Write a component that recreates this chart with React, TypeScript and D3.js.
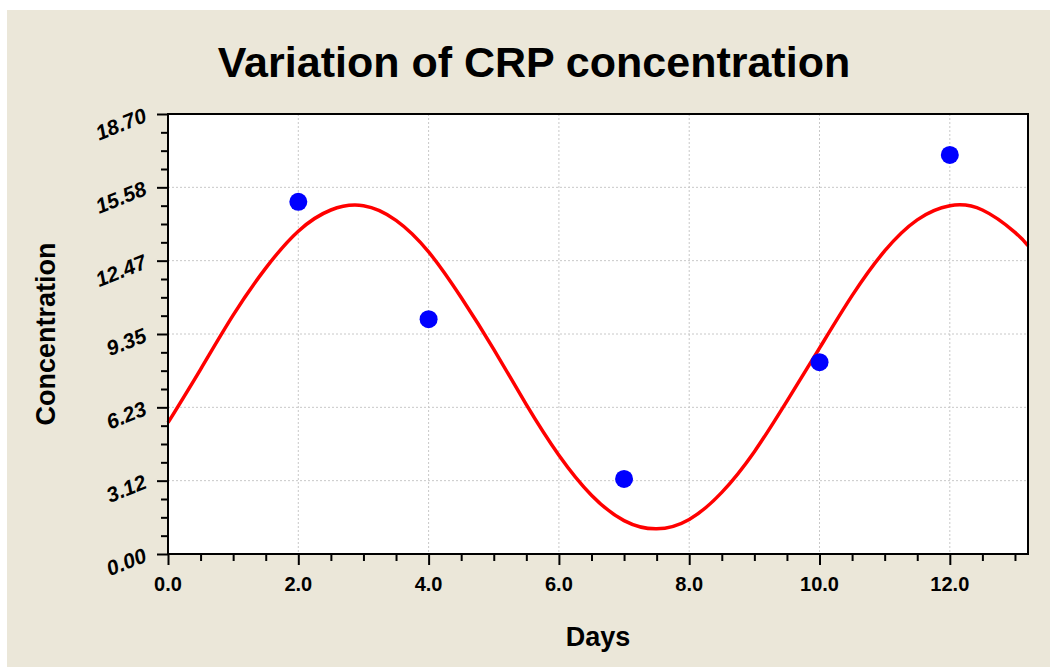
import React, { useEffect, useRef } from "react";
import * as d3 from "d3";

// measured points (day, CRP)
const days = [2, 4, 7, 10, 12];
const crp = [14.97, 9.98, 3.19, 8.15, 16.96];

// fitted curve, every half day
const fitDays = [
  0, 0.5, 1, 1.5, 2, 2.5, 3, 3.5, 4, 4.5, 5, 5.5, 6, 6.5, 7, 7.5, 8, 8.5, 9,
  9.5, 10, 10.5, 11, 11.5, 12, 12.5, 13, 13.2,
];
const fitCrp = [
  5.58, 7.85, 10.15, 12.15, 13.72, 14.62, 14.8, 14.18, 12.84, 10.9, 8.7, 6.35,
  4.2, 2.5, 1.42, 1.07, 1.47, 2.62, 4.35, 6.5, 8.75, 10.98, 12.88, 14.2, 14.8,
  14.62, 13.67, 13.1,
];

const xTicks = [0, 2, 4, 6, 8, 10, 12];
const xTickLabels = ["0.0", "2.0", "4.0", "6.0", "8.0", "10.0", "12.0"];
const xMinorTicks = [0.5, 1, 1.5, 2.5, 3, 3.5, 4.5, 5, 5.5, 6.5, 7, 7.5, 8.5, 9, 9.5, 10.5, 11, 11.5, 12.5, 13];
const yTicks = [0, 3.1167, 6.2333, 9.35, 12.4667, 15.5833, 18.7];
const yTickLabels = ["0.00", "3.12", "6.23", "9.35", "12.47", "15.58", "18.70"];

const App = () => {
  const svgRef = useRef<SVGSVGElement>(null);
  const width = 1050;
  const height = 667;
  const margin = { top: 114, right: 22, bottom: 113, left: 168 };

  useEffect(() => {
    const svg = d3.select(svgRef.current);
    svg.selectAll("*").remove();

    const chartWidth = width - margin.left - margin.right;
    const chartHeight = height - margin.top - margin.bottom;
    const font = "'Liberation Sans', Arial, sans-serif";

    const x = d3.scaleLinear().domain([0, 13.2]).range([0, chartWidth]);
    const y = d3.scaleLinear().domain([0, 18.7]).range([chartHeight, 0]);

    // panel background
    svg
      .append("rect")
      .attr("x", 7)
      .attr("y", 10)
      .attr("width", width - 7)
      .attr("height", height - 10)
      .attr("fill", "#ebe7d9");

    svg
      .append("text")
      .text("Variation of CRP concentration")
      .attr("x", 534)
      .attr("y", 77)
      .attr("text-anchor", "middle")
      .attr("font-family", font)
      .attr("font-weight", "bold")
      .attr("font-size", "43px")
      .attr("fill", "#000");

    const g = svg
      .append("g")
      .attr("transform", `translate(${margin.left},${margin.top})`);

    g.append("rect")
      .attr("width", chartWidth)
      .attr("height", chartHeight)
      .attr("fill", "#fff");

    // dotted grid
    g.selectAll(".vgrid")
      .data(xTicks.slice(1))
      .enter()
      .append("line")
      .attr("x1", (d) => x(d))
      .attr("x2", (d) => x(d))
      .attr("y1", 0)
      .attr("y2", chartHeight)
      .attr("stroke", "#c8c8c8")
      .attr("stroke-dasharray", "2,2");

    g.selectAll(".hgrid")
      .data(yTicks.slice(1, -1))
      .enter()
      .append("line")
      .attr("x1", 0)
      .attr("x2", chartWidth)
      .attr("y1", (d) => y(d))
      .attr("y2", (d) => y(d))
      .attr("stroke", "#c8c8c8")
      .attr("stroke-dasharray", "2,2");

    // fitted curve
    const line = d3
      .line<number>()
      .x((d, i) => x(fitDays[i]))
      .y((d) => y(d))
      .curve(d3.curveNatural);

    g.append("path")
      .datum(fitCrp)
      .attr("d", line)
      .attr("fill", "none")
      .attr("stroke", "#ff0000")
      .attr("stroke-width", 3.5);

    // points
    g.selectAll(".dot")
      .data(crp)
      .enter()
      .append("circle")
      .attr("cx", (d, i) => x(days[i]))
      .attr("cy", (d) => y(d))
      .attr("r", 9)
      .attr("fill", "#0000ff");

    // frame
    g.append("rect")
      .attr("width", chartWidth)
      .attr("height", chartHeight)
      .attr("fill", "none")
      .attr("stroke", "#000")
      .attr("stroke-width", 2);

    // y axis ticks
    const yMinor = d3
      .range(0, 25)
      .filter((i) => i % 4 !== 0)
      .map((i) => (18.7 / 24) * i);

    const yAxisMajor = g
      .append("g")
      .call(d3.axisLeft(y).tickValues(yTicks).tickSize(11).tickFormat(() => ""));
    const yAxisMinor = g
      .append("g")
      .call(d3.axisLeft(y).tickValues(yMinor).tickSize(7).tickFormat(() => ""));

    const xAxisMajor = g
      .append("g")
      .attr("transform", `translate(0, ${chartHeight})`)
      .call(d3.axisBottom(x).tickValues(xTicks).tickSize(11).tickFormat(() => ""));
    const xAxisMinor = g
      .append("g")
      .attr("transform", `translate(0, ${chartHeight})`)
      .call(d3.axisBottom(x).tickValues(xMinorTicks).tickSize(7).tickFormat(() => ""));

    [yAxisMajor, yAxisMinor, xAxisMajor, xAxisMinor].forEach((a) => {
      a.select(".domain").remove();
      a.selectAll("line").attr("stroke", "#000").attr("stroke-width", 2);
    });

    // y tick labels, slanted
    g.selectAll(".ylabel")
      .data(yTicks)
      .enter()
      .append("text")
      .text((d, i) => yTickLabels[i])
      .attr(
        "transform",
        (d) => `translate(-20, ${y(d) + 7}) rotate(-22)`
      )
      .attr("text-anchor", "end")
      .attr("font-family", font)
      .attr("font-weight", "bold")
      .attr("font-style", "italic")
      .attr("font-size", "21px")
      .attr("fill", "#000");

    // x tick labels
    g.selectAll(".xlabel")
      .data(xTicks)
      .enter()
      .append("text")
      .text((d, i) => xTickLabels[i])
      .attr("x", (d) => x(d))
      .attr("y", chartHeight + 37)
      .attr("text-anchor", "middle")
      .attr("font-family", font)
      .attr("font-weight", "bold")
      .attr("font-size", "20px")
      .attr("fill", "#000");

    // axis titles
    g.append("text")
      .text("Days")
      .attr("x", chartWidth / 2)
      .attr("y", chartHeight + 92)
      .attr("text-anchor", "middle")
      .attr("font-family", font)
      .attr("font-weight", "bold")
      .attr("font-size", "27px")
      .attr("fill", "#000");

    g.append("text")
      .text("Concentration")
      .attr("transform", `translate(-113, ${chartHeight / 2}) rotate(-90)`)
      .attr("text-anchor", "middle")
      .attr("font-family", font)
      .attr("font-weight", "bold")
      .attr("font-size", "27px")
      .attr("fill", "#000");
  }, []);

  return (
    <svg
      ref={svgRef}
      width={width}
      height={height}
      style={{ position: "absolute", left: 0, top: 0, background: "#fff" }}
    />
  );
};

export default App;
